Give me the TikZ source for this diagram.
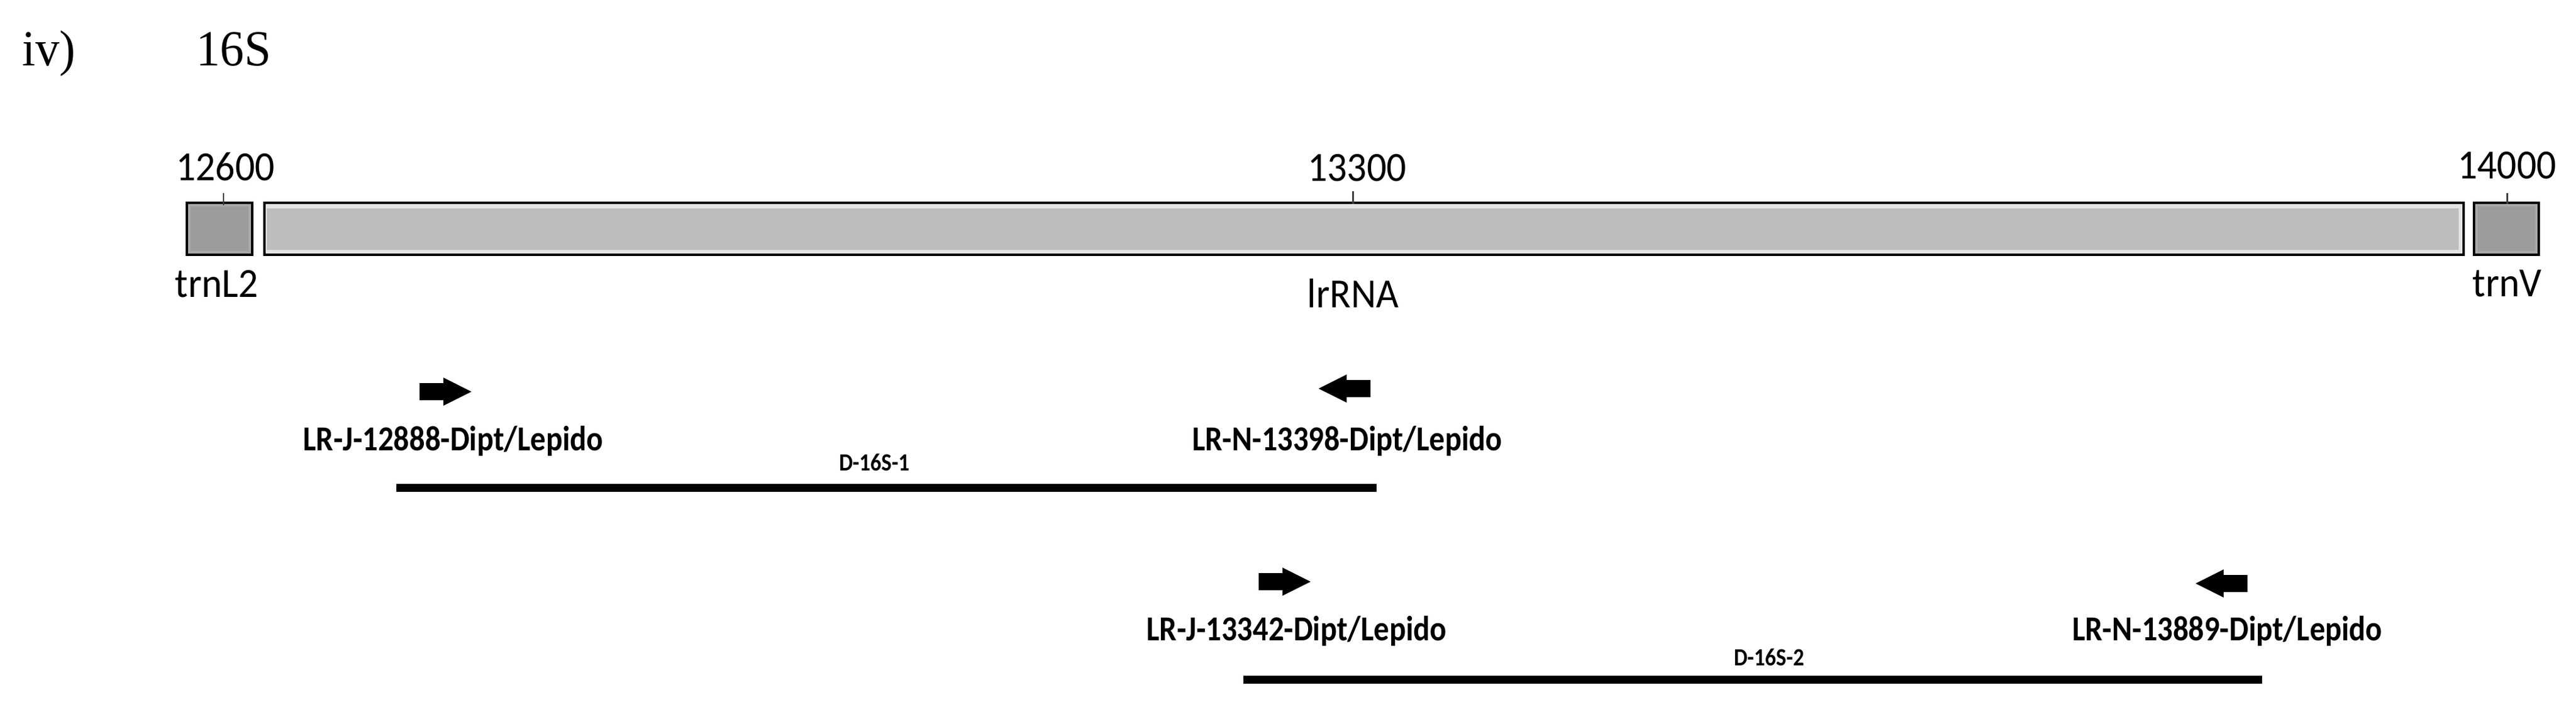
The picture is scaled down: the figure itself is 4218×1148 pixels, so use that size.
\documentclass[tikz,border=0pt]{standalone}
\usepackage{fontspec}
\setmainfont{Liberation Serif}
\newfontfamily\titlefont[FakeStretch=0.95]{Liberation Serif}
\newfontfamily\numfont[FakeStretch=0.94]{Carlito}
\newfontfamily\primfont[FakeStretch=0.88]{Carlito}
\definecolor{boxgray}{HTML}{BDBDBD}
\definecolor{boxlight}{HTML}{E4E4E4}
\definecolor{trngray}{HTML}{9C9C9C}
\definecolor{trnlight}{HTML}{A9A9A9}
\definecolor{tickgray}{HTML}{404040}
\tikzset{
  title/.style={inner sep=0pt, font=\titlefont\fontsize{23.5}{25}\selectfont},
  num/.style={inner sep=0pt, anchor=base, font=\numfont\fontsize{19.3}{21}\selectfont},
  gene/.style={inner sep=0pt, anchor=base west, font=\numfont\fontsize{19.3}{21}\selectfont},
  primer/.style={inner sep=0pt, anchor=base, font=\primfont\bfseries\fontsize{16.3}{18}\selectfont},
  prod/.style={inner sep=0pt, anchor=base, font=\primfont\bfseries\fontsize{11.5}{13}\selectfont},
  boxline/.style={draw=black, line width=1.15pt},
  tickline/.style={draw=tickgray, line width=0.85pt},
  ampbar/.style={draw=black, line width=3.7pt},
  rarrowpic/.pic={\fill[black] (0,-14) -- (39,-14) -- (39,-23) -- (85,0) -- (39,23) -- (39,14) -- (0,14) -- cycle;},
  larrowpic/.pic={\fill[black] (0,-14) -- (-39,-14) -- (-39,-23) -- (-85,0) -- (-39,23) -- (-39,14) -- (0,14) -- cycle;}
}
\begin{document}
\begin{tikzpicture}[x=0.01cm, y=-0.01cm]
\useasboundingbox (0,0) rectangle (4218,1148);
% title
\node[title, anchor=base west] (lbl) at (36,107) {iv)};
\node[title, anchor=base west] (ttl) at (321,107) {16S};
% boxes
\fill[trnlight] (306,332) rectangle (413,417);
\fill[trngray] (312,338) rectangle (407,411);
\draw[boxline] (306,332) rectangle (413,417);
\fill[boxlight] (433,332) rectangle (4034,417);
\fill[boxgray] (437,341) rectangle (4026,409);
\draw[boxline] (433,332) rectangle (4034,417);
\fill[trnlight] (4051,332) rectangle (4157,417);
\fill[trngray] (4057,338) rectangle (4151,411);
\draw[boxline] (4051,332) rectangle (4157,417);
% ticks
\coordinate (t1a) at (366,316); \coordinate (t1b) at (366,336);
\coordinate (t2a) at (2215,313); \coordinate (t2b) at (2215,334);
\coordinate (t3a) at (4105,316); \coordinate (t3b) at (4105,334);
\draw[tickline] (t1a) -- (t1b);
\draw[tickline] (t2a) -- (t2b);
\draw[tickline] (t3a) -- (t3b);
\node[num] (n12600) at (369,295) {12600};
\node[num] (n13300) at (2222,296) {13300};
\node[num] (n14000) at (4105,292) {14000};
% gene names
\node[gene] (gtrnl) at (286,486) {trnL2};
\node[gene] (grrna) at (2140,503) {lrRNA};
\node[gene] (gtrnv) at (4048,485) {trnV};
% row 1
\pic (a1) at (687,641) {rarrowpic};
\pic (a2) at (2244,636) {larrowpic};
\node[primer] (p1) at (742,737) {LR-J-12888-Dipt/Lepido};
\node[primer] (p2) at (2206,737) {LR-N-13398-Dipt/Lepido};
\node[prod] (d1) at (1432,770) {D-16S-1};
\coordinate (b1s) at (649,798); \coordinate (b1e) at (2254,798);
\draw[ampbar] (b1s) -- (b1e);
% row 2
\pic (a3) at (2061,952) {rarrowpic};
\pic (a4) at (3680,955) {larrowpic};
\node[primer] (p3) at (2123,1048) {LR-J-13342-Dipt/Lepido};
\node[primer] (p4) at (3647,1048) {LR-N-13889-Dipt/Lepido};
\node[prod] (d2) at (2897,1089) {D-16S-2};
\coordinate (b2s) at (2036,1112); \coordinate (b2e) at (3704,1112);
\draw[ampbar] (b2s) -- (b2e);
\end{tikzpicture}
\end{document}
